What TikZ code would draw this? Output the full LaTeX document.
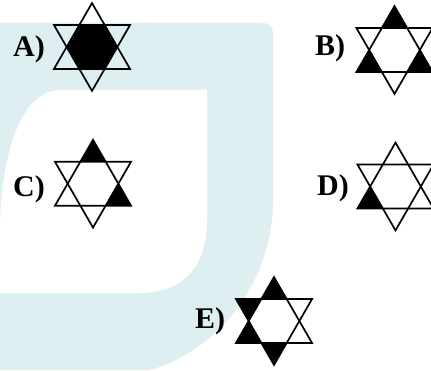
\documentclass[tikz,border=0pt]{standalone}
\usepackage{fontspec}
\setmainfont{Liberation Serif}
\definecolor{wmteal}{RGB}{222,239,241}
\newcommand\starR{43.9}
\newcommand\hexR{25.35}
\newcommand\starpoint[1]{\fill[black] (#1:\starR) -- ({#1-30}:\hexR) -- ({#1+30}:\hexR) -- cycle;}
\newcommand\starhex{\fill[black] (0:\hexR) -- (60:\hexR) -- (120:\hexR) -- (180:\hexR) -- (240:\hexR) -- (300:\hexR) -- cycle;}
\newcommand\hexstar[2]{%
  \begin{scope}[shift={#1}]
    #2
    \draw[starline] (90:\starR) -- (210:\starR) -- (330:\starR) -- cycle;
    \draw[starline] (270:\starR) -- (30:\starR) -- (150:\starR) -- cycle;
  \end{scope}}
\tikzset{
  starline/.style={line width=1.7pt, line join=miter, black},
  optlabel/.style={anchor=base west, inner sep=0pt, font=\fontsize{30}{30}\selectfont\bfseries}
}
\begin{document}
\begin{tikzpicture}[x=1pt,y=1pt]
  \useasboundingbox (0,0) rectangle (431,370);
  \fill[white] (0,0) rectangle (431,370);
  % watermark background
  \fill[wmteal] (0,347) -- (263,347) .. controls (269,347) and (273,343) .. (273,337)
     -- (273,170) .. controls (273,90) and (220,20) .. (150,0) -- (0,0) -- cycle;
  \fill[white] (60,280) -- (207,280) -- (207,150) .. controls (207,100) and (180,77) .. (140,77)
     -- (0,77) -- (0,135) .. controls (0,225) and (25,280) .. (60,280) -- cycle;
  % stars
  \hexstar{(92,323)}{\starhex}
  \hexstar{(394.5,320)}{\starpoint{90}\starpoint{210}\starpoint{330}}
  \hexstar{(93,186.3)}{\starpoint{90}\starpoint{330}}
  \hexstar{(395.5,183.5)}{\starpoint{210}}
  \hexstar{(274,49)}{\starpoint{90}\starpoint{150}\starpoint{210}\starpoint{270}}
  % labels
  \node[optlabel] (la) at (13,313) {A)};
  \node[optlabel] (lb) at (315,314) {B)};
  \node[optlabel] (lc) at (13,173) {C)};
  \node[optlabel] (ld) at (317,175) {D)};
  \node[optlabel] (le) at (195,42) {E)};
\end{tikzpicture}
\end{document}
